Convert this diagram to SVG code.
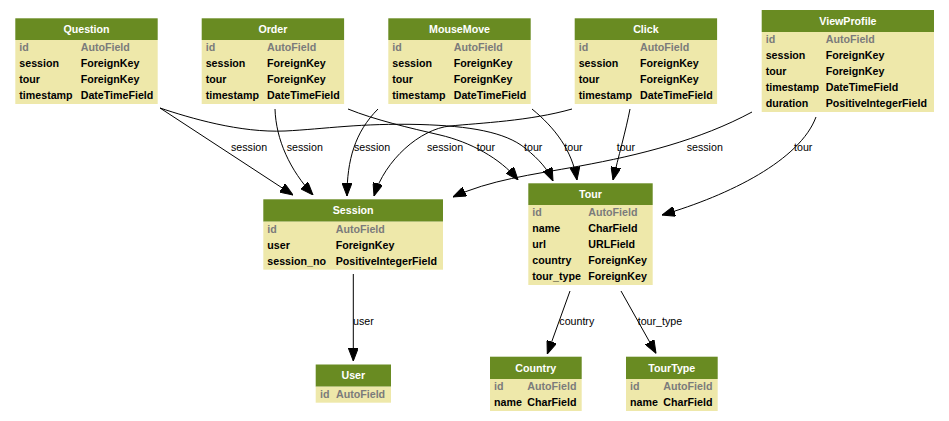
<svg xmlns="http://www.w3.org/2000/svg" width="949" height="421" viewBox="0 0 949 421">
<defs>
<style>
.hd{fill:#698B22}
.bd{fill:#EEE8AA}
.ht{font-family:"Liberation Sans",Arial,sans-serif;font-weight:bold;font-size:10.67px;fill:#ffffff;text-anchor:middle}
.ft{font-family:"Liberation Sans",Arial,sans-serif;font-weight:bold;font-size:10.67px;fill:#000000}
.pk{fill:#7B7B7B}
.el{font-family:"Liberation Sans",Arial,sans-serif;font-size:10.67px;fill:#000000}
.e{fill:none;stroke:#000000;stroke-width:1;marker-end:url(#ah)}
</style>
<marker id="ah" markerUnits="userSpaceOnUse" viewBox="0 0 13 10" refX="13" refY="5" markerWidth="13" markerHeight="10" orient="auto">
<path d="M0,0 L13,5 L0,10 z" fill="#000000" stroke="#000000" stroke-width="1"/>
</marker>
</defs>
<rect width="949" height="421" fill="#ffffff"/>

<g id="connectors">
<path class="e" d="M160,108 L293,195"/>
<path class="e" d="M160,108 C190,118 240,133 285,131 C325,129 360,123 420,124.5 C470,126 505,132 525,148 C540,160 548,170 553,181"/>
<path class="e" d="M275,109 C276,140 290,170 313,195"/>
<path class="e" d="M348,109 C375,120 410,128 440,135 C470,142 500,158 518,180"/>
<path class="e" d="M378,109 C355,132 347,160 347,196"/>
<path class="e" d="M532,109 C555,128 572,150 577,180"/>
<path class="e" d="M572,109 C530,121 480,123 450,126 C420,129 385,160 374,196"/>
<path class="e" d="M630,109 C626,130 618,158 613,180"/>
<path class="e" d="M752,112 C700,140 640,155 580,166 C530,175 490,180 453,197"/>
<path class="e" d="M816,117 C800,160 730,195 662,215"/>
<path class="e" d="M353.3,274 L353.3,361"/>
<path class="e" d="M570,291 L547.3,354"/>
<path class="e" d="M621,291 L656,353.3"/>
<text class="el" x="231" y="150.8">session</text>
<text class="el" x="286.7" y="150.8">session</text>
<text class="el" x="354" y="150.8">session</text>
<text class="el" x="427" y="150.8">session</text>
<text class="el" x="476.7" y="150.8">tour</text>
<text class="el" x="524" y="150.8">tour</text>
<text class="el" x="564.3" y="150.8">tour</text>
<text class="el" x="616.7" y="150.8">tour</text>
<text class="el" x="686.7" y="150.8">session</text>
<text class="el" x="794" y="150.8">tour</text>
<text class="el" x="353" y="324.5">user</text>
<text class="el" x="559.3" y="324.5">country</text>
<text class="el" x="637.7" y="324.5">tour_type</text>
</g>

<g id="Question">
<rect class="hd" x="15.3" y="18.3" width="142.4" height="21.7"/>
<rect class="bd" x="15.3" y="40" width="142.4" height="64"/>
<text class="ht" x="86.5" y="33.1">Question</text>
<text class="ft pk" x="19.3" y="50.8">id</text><text class="ft pk" x="80.7" y="50.8">AutoField</text>
<text class="ft" x="19.3" y="66.8">session</text><text class="ft" x="80.7" y="66.8">ForeignKey</text>
<text class="ft" x="19.3" y="82.8">tour</text><text class="ft" x="80.7" y="82.8">ForeignKey</text>
<text class="ft" x="19.3" y="98.8">timestamp</text><text class="ft" x="80.7" y="98.8">DateTimeField</text>
</g>

<g id="Order">
<rect class="hd" x="201.7" y="18.3" width="142.4" height="21.7"/>
<rect class="bd" x="201.7" y="40" width="142.4" height="64"/>
<text class="ht" x="272.9" y="33.1">Order</text>
<text class="ft pk" x="205.7" y="50.8">id</text><text class="ft pk" x="267.1" y="50.8">AutoField</text>
<text class="ft" x="205.7" y="66.8">session</text><text class="ft" x="267.1" y="66.8">ForeignKey</text>
<text class="ft" x="205.7" y="82.8">tour</text><text class="ft" x="267.1" y="82.8">ForeignKey</text>
<text class="ft" x="205.7" y="98.8">timestamp</text><text class="ft" x="267.1" y="98.8">DateTimeField</text>
</g>

<g id="MouseMove">
<rect class="hd" x="388.3" y="18.3" width="142.4" height="21.7"/>
<rect class="bd" x="388.3" y="40" width="142.4" height="64"/>
<text class="ht" x="459.5" y="33.1">MouseMove</text>
<text class="ft pk" x="392.3" y="50.8">id</text><text class="ft pk" x="453.7" y="50.8">AutoField</text>
<text class="ft" x="392.3" y="66.8">session</text><text class="ft" x="453.7" y="66.8">ForeignKey</text>
<text class="ft" x="392.3" y="82.8">tour</text><text class="ft" x="453.7" y="82.8">ForeignKey</text>
<text class="ft" x="392.3" y="98.8">timestamp</text><text class="ft" x="453.7" y="98.8">DateTimeField</text>
</g>

<g id="Click">
<rect class="hd" x="574.7" y="18.3" width="142.4" height="21.7"/>
<rect class="bd" x="574.7" y="40" width="142.4" height="64"/>
<text class="ht" x="645.9" y="33.1">Click</text>
<text class="ft pk" x="578.7" y="50.8">id</text><text class="ft pk" x="640.1" y="50.8">AutoField</text>
<text class="ft" x="578.7" y="66.8">session</text><text class="ft" x="640.1" y="66.8">ForeignKey</text>
<text class="ft" x="578.7" y="82.8">tour</text><text class="ft" x="640.1" y="82.8">ForeignKey</text>
<text class="ft" x="578.7" y="98.8">timestamp</text><text class="ft" x="640.1" y="98.8">DateTimeField</text>
</g>

<g id="ViewProfile">
<rect class="hd" x="761.7" y="10" width="172.3" height="22"/>
<rect class="bd" x="761.7" y="32" width="172.3" height="80"/>
<text class="ht" x="847.9" y="24.8">ViewProfile</text>
<text class="ft pk" x="765.7" y="42.8">id</text><text class="ft pk" x="825.7" y="42.8">AutoField</text>
<text class="ft" x="765.7" y="58.8">session</text><text class="ft" x="825.7" y="58.8">ForeignKey</text>
<text class="ft" x="765.7" y="74.8">tour</text><text class="ft" x="825.7" y="74.8">ForeignKey</text>
<text class="ft" x="765.7" y="90.8">timestamp</text><text class="ft" x="825.7" y="90.8">DateTimeField</text>
<text class="ft" x="765.7" y="106.8">duration</text><text class="ft" x="825.7" y="106.8">PositiveIntegerField</text>
</g>

<g id="Session">
<rect class="hd" x="263.3" y="199.3" width="179.7" height="22.4"/>
<rect class="bd" x="263.3" y="221.7" width="179.7" height="48"/>
<text class="ht" x="353.2" y="214.1">Session</text>
<text class="ft pk" x="267.3" y="232.5">id</text><text class="ft pk" x="335.7" y="232.5">AutoField</text>
<text class="ft" x="267.3" y="248.5">user</text><text class="ft" x="335.7" y="248.5">ForeignKey</text>
<text class="ft" x="267.3" y="264.5">session_no</text><text class="ft" x="335.7" y="264.5">PositiveIntegerField</text>
</g>

<g id="Tour">
<rect class="hd" x="528.3" y="183.3" width="124.4" height="21.7"/>
<rect class="bd" x="528.3" y="205" width="124.4" height="80"/>
<text class="ht" x="590.5" y="198.1">Tour</text>
<text class="ft pk" x="532.3" y="215.8">id</text><text class="ft pk" x="588.3" y="215.8">AutoField</text>
<text class="ft" x="532.3" y="231.8">name</text><text class="ft" x="588.3" y="231.8">CharField</text>
<text class="ft" x="532.3" y="247.8">url</text><text class="ft" x="588.3" y="247.8">URLField</text>
<text class="ft" x="532.3" y="263.8">country</text><text class="ft" x="588.3" y="263.8">ForeignKey</text>
<text class="ft" x="532.3" y="279.8">tour_type</text><text class="ft" x="588.3" y="279.8">ForeignKey</text>
</g>

<g id="User">
<rect class="hd" x="315.7" y="364.5" width="75.3" height="22.2"/>
<rect class="bd" x="315.7" y="386.7" width="75.3" height="16"/>
<text class="ht" x="353.3" y="379.3">User</text>
<text class="ft pk" x="320" y="397.5">id</text><text class="ft pk" x="336" y="397.5">AutoField</text>
</g>

<g id="Country">
<rect class="hd" x="490" y="356.7" width="91.7" height="22.3"/>
<rect class="bd" x="490" y="379" width="91.7" height="32"/>
<text class="ht" x="535.8" y="371.5">Country</text>
<text class="ft pk" x="494" y="389.8">id</text><text class="ft pk" x="527.3" y="389.8">AutoField</text>
<text class="ft" x="494" y="405.8">name</text><text class="ft" x="527.3" y="405.8">CharField</text>
</g>

<g id="TourType">
<rect class="hd" x="626" y="356.7" width="91.7" height="22.3"/>
<rect class="bd" x="626" y="379" width="91.7" height="32"/>
<text class="ht" x="671.8" y="371.5">TourType</text>
<text class="ft pk" x="630" y="389.8">id</text><text class="ft pk" x="663.3" y="389.8">AutoField</text>
<text class="ft" x="630" y="405.8">name</text><text class="ft" x="663.3" y="405.8">CharField</text>
</g>
</svg>
